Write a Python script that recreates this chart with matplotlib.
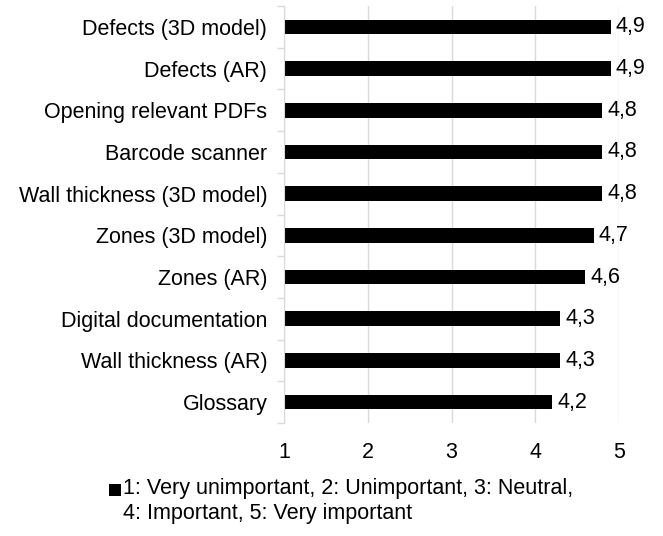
import numpy as np
import matplotlib.pyplot as plt
from matplotlib.patches import Rectangle

plt.rcParams['font.family'] = ['Liberation Sans', 'DejaVu Sans']

# Data (top to bottom)
categories = ['Defects (3D model)', 'Defects (AR)', 'Opening relevant PDFs',
              'Barcode scanner', 'Wall thickness (3D model)', 'Zones (3D model)',
              'Zones (AR)', 'Digital documentation', 'Wall thickness (AR)', 'Glossary']
scores = [4.9, 4.9, 4.8, 4.8, 4.8, 4.7, 4.6, 4.3, 4.3, 4.2]
x_ticks = [1, 2, 3, 4, 5]
legend_label = '1: Very unimportant, 2: Unimportant, 3: Neutral,\n4: Important, 5: Very important'

fs = 15.5

fig = plt.figure(figsize=(6.63, 5.36), dpi=100)
ax = fig.add_axes([0.4284, 0.2108, 0.5052, 0.778])

y = np.arange(len(categories))
base = 1
ax.barh(y, np.array(scores) - base, left=base, height=0.35, color='black')

for yi, v in zip(y, scores):
    ax.text(v + 0.06, yi, f'{v:.1f}'.replace('.', ','), va='center', ha='left', fontsize=fs)

ax.set_xlim(1, 5)
ax.set_ylim(len(categories) - 0.5, -0.5)
ax.set_xticks(x_ticks)
ax.set_xticklabels([str(t) for t in x_ticks], fontsize=fs)
ax.set_yticks(y)
ax.set_yticklabels(categories, fontsize=fs)
ax.set_yticks(np.arange(len(categories) + 1) - 0.5, minor=True)
ax.tick_params(axis='y', which='major', length=0, pad=12)
ax.tick_params(axis='y', which='minor', length=5, color='#d9d9d9', width=1)
ax.tick_params(axis='x', length=0, pad=14)

ax.grid(axis='x', color='#d9d9d9', linewidth=1)
ax.set_axisbelow(True)
for s in ['top', 'right', 'bottom']:
    ax.spines[s].set_visible(False)
ax.spines['left'].set_color('#d9d9d9')

# legend: small black square + two-line label
fig.patches.append(Rectangle((0.165, 0.0755), 0.0175, 0.0215, facecolor='black',
                             transform=fig.transFigure, figure=fig))
fig.text(0.186, 0.108, legend_label, ha='left', va='top', fontsize=fs, linespacing=1.25)

plt.savefig('out.png', dpi=100)
